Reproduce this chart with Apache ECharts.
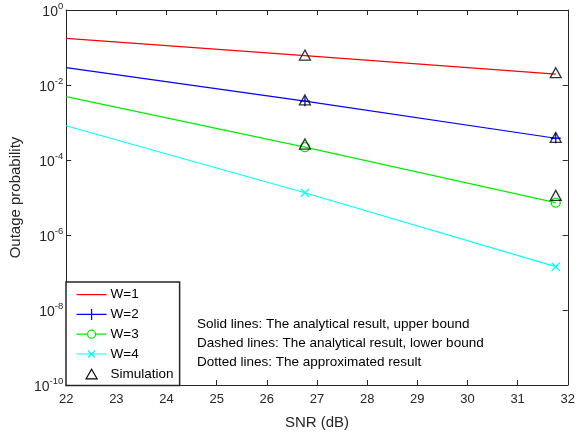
<!DOCTYPE html>
<html><head><meta charset="utf-8">
<script src="https://cdn.jsdelivr.net/npm/echarts@6/dist/echarts.min.js"></script>
<style>html,body{margin:0;padding:0;background:#fff}#c{width:578px;height:435px}</style>
</head><body><div id="c"></div>
<script>
// ---- data ----
const snr = [22, 26.76, 31.76];
const w1 = [0.176, 0.061, 0.0196];
const w2 = [0.0289, 0.0037, 0.00038];
const w3 = [0.00488, 0.00022, 0.0000073];
const w4 = [0.00082, 0.0000134, 0.000000143];
const simSnr = [26.76, 31.76, 26.76, 31.76, 26.76, 31.76];
const simVal = [0.063, 0.0213, 0.0040, 0.00040, 0.000267, 0.0000114];
const seriesNames = ['W=1', 'W=2', 'W=3', 'W=4', 'Simulation'];
const notes = [
  'Solid lines: The analytical result, upper bound',
  'Dashed lines: The analytical result, lower bound',
  'Dotted lines: The approximated result'
];
const xName = 'SNR (dB)';
const yName = 'Outage probability';

const FONT = '"Liberation Sans", Arial, Helvetica, sans-serif';
const AX = '#262626';
const PLUS = 'path://M5,0L5,10M0,5L10,5';
const CROSS = 'path://M0,0L10,10M10,0L0,10';
// legend icons: 30x14 boxes holding line + marker
const L_LINE = 'path://M0,0M30,14M0,7L30,7';
const L_PLUS = 'path://M0,0M30,14M0,7L30,7M15,1.5L15,12.5M9.5,7L20.5,7';
const L_CIRC = 'path://M0,0M30,14M0,7L11,7M19,7L30,7M19,7A4,4,0,1,1,11,7A4,4,0,1,1,19,7';
const L_CROSS = 'path://M0,0M30,14M0,7L30,7M11.5,3.5L18.5,10.5M18.5,3.5L11.5,10.5';
const L_TRI = 'path://M0,0M30,14M15,2.5L20.5,12L9.5,12Z';

function lineData(vals, withMarker) {
  return snr.map((x, i) => {
    const d = { value: [x, vals[i]] };
    if (i === 0 || !withMarker) d.symbol = 'none';
    return d;
  });
}
function mkLine(name, vals, color, symbol, size) {
  return {
    type: 'line', name: name, data: lineData(vals, symbol !== 'none'),
    symbol: symbol, symbolSize: size, showSymbol: true,
    lineStyle: { color: color, width: 1.2 },
    itemStyle: { color: 'rgba(0,0,0,0)', borderColor: color, borderWidth: 1.3 },
    emphasis: { disabled: true }, animation: false, z: 2
  };
}
function legItem(name, icon, color) {
  return {
    name: name, icon: icon,
    itemStyle: { color: 'rgba(0,0,0,0)', borderColor: color, borderWidth: 1.2, opacity: 1 }
  };
}

const chart = echarts.init(document.getElementById('c'), null, { renderer: 'canvas' });
const yLabel = v => {
  const e = Math.round(Math.log10(v));
  return '{b|10}{s|' + e + '}';
};
const option = {
  backgroundColor: '#fff',
  animation: false,
  textStyle: { fontFamily: FONT },
  grid: { left: 66, right: 5, top: 10, bottom: 50 },
  xAxis: [{
    type: 'value', min: 22, max: 32, interval: 1, position: 'bottom',
    name: xName, nameLocation: 'middle', nameGap: 30,
    nameTextStyle: { fontSize: 15, color: AX, fontFamily: FONT },
    axisLine: { lineStyle: { color: AX, width: 1 } },
    axisTick: { inside: true, length: 5, lineStyle: { color: AX } },
    axisLabel: { fontSize: 13, color: AX, margin: 8, fontFamily: FONT },
    splitLine: { show: false }
  }, {
    type: 'value', min: 22, max: 32, interval: 1, position: 'top',
    axisLine: { lineStyle: { color: AX, width: 1 } },
    axisTick: { inside: true, length: 5, lineStyle: { color: AX } },
    axisLabel: { show: false }, splitLine: { show: false }
  }],
  yAxis: [{
    type: 'log', logBase: 10, min: 1e-10, max: 1, interval: 2, position: 'left',
    name: yName, nameLocation: 'middle', nameGap: 43, nameRotate: 90,
    nameTextStyle: { fontSize: 15, color: AX, fontFamily: FONT },
    axisLine: { show: true, lineStyle: { color: AX, width: 1 } },
    axisTick: { show: true, inside: true, length: 5, lineStyle: { color: AX } },
    axisLabel: {
      formatter: yLabel, margin: 3, color: AX,
      rich: {
        b: { fontSize: 14, lineHeight: 18, verticalAlign: 'bottom', color: AX, fontFamily: FONT },
        s: { fontSize: 9.5, lineHeight: 10, verticalAlign: 'top', color: AX, fontFamily: FONT }
      }
    },
    minorTick: { show: false }, splitLine: { show: false }
  }, {
    type: 'log', logBase: 10, min: 1e-10, max: 1, interval: 2, position: 'right',
    axisLine: { show: true, lineStyle: { color: AX, width: 1 } },
    axisTick: { show: true, inside: true, length: 5, lineStyle: { color: AX } },
    axisLabel: { show: false }, splitLine: { show: false }
  }],
  legend: {
    orient: 'vertical', left: 66, top: 282,
    data: [
      legItem(seriesNames[0], L_LINE, '#ff0000'),
      legItem(seriesNames[1], L_PLUS, '#0000ff'),
      legItem(seriesNames[2], L_CIRC, '#00ee00'),
      legItem(seriesNames[3], L_CROSS, '#00ffff'),
      legItem(seriesNames[4], L_TRI, '#000000')
    ],
    padding: [5, 6, 4, 10],
    itemWidth: 30, itemHeight: 14, itemGap: 4.6,
    backgroundColor: '#fff', borderColor: AX, borderWidth: 1.5,
    textStyle: { fontSize: 13.5, color: '#000', fontFamily: FONT, padding: [0, 0, 0, -1] },
    selectedMode: false
  },
  graphic: notes.map((t, i) => ({
    type: 'text', left: 197, top: 317 + i * 19, silent: true,
    style: { text: t, fontSize: 13.5, fill: '#000', fontFamily: FONT }
  })),
  series: [
    mkLine(seriesNames[0], w1, '#ff0000', 'none', 0),
    mkLine(seriesNames[1], w2, '#0000ff', PLUS, 10),
    mkLine(seriesNames[2], w3, '#00ee00', 'circle', 9),
    mkLine(seriesNames[3], w4, '#00ffff', CROSS, 8),
    {
      type: 'scatter', name: seriesNames[4],
      data: simSnr.map((x, i) => [x, simVal[i]]),
      symbol: 'triangle', symbolSize: [11, 10],
      itemStyle: { color: 'rgba(0,0,0,0)', borderColor: '#000', borderWidth: 1.3 },
      emphasis: { disabled: true }, z: 3
    }
  ]
};
chart.setOption(option);
</script>
</body></html>
